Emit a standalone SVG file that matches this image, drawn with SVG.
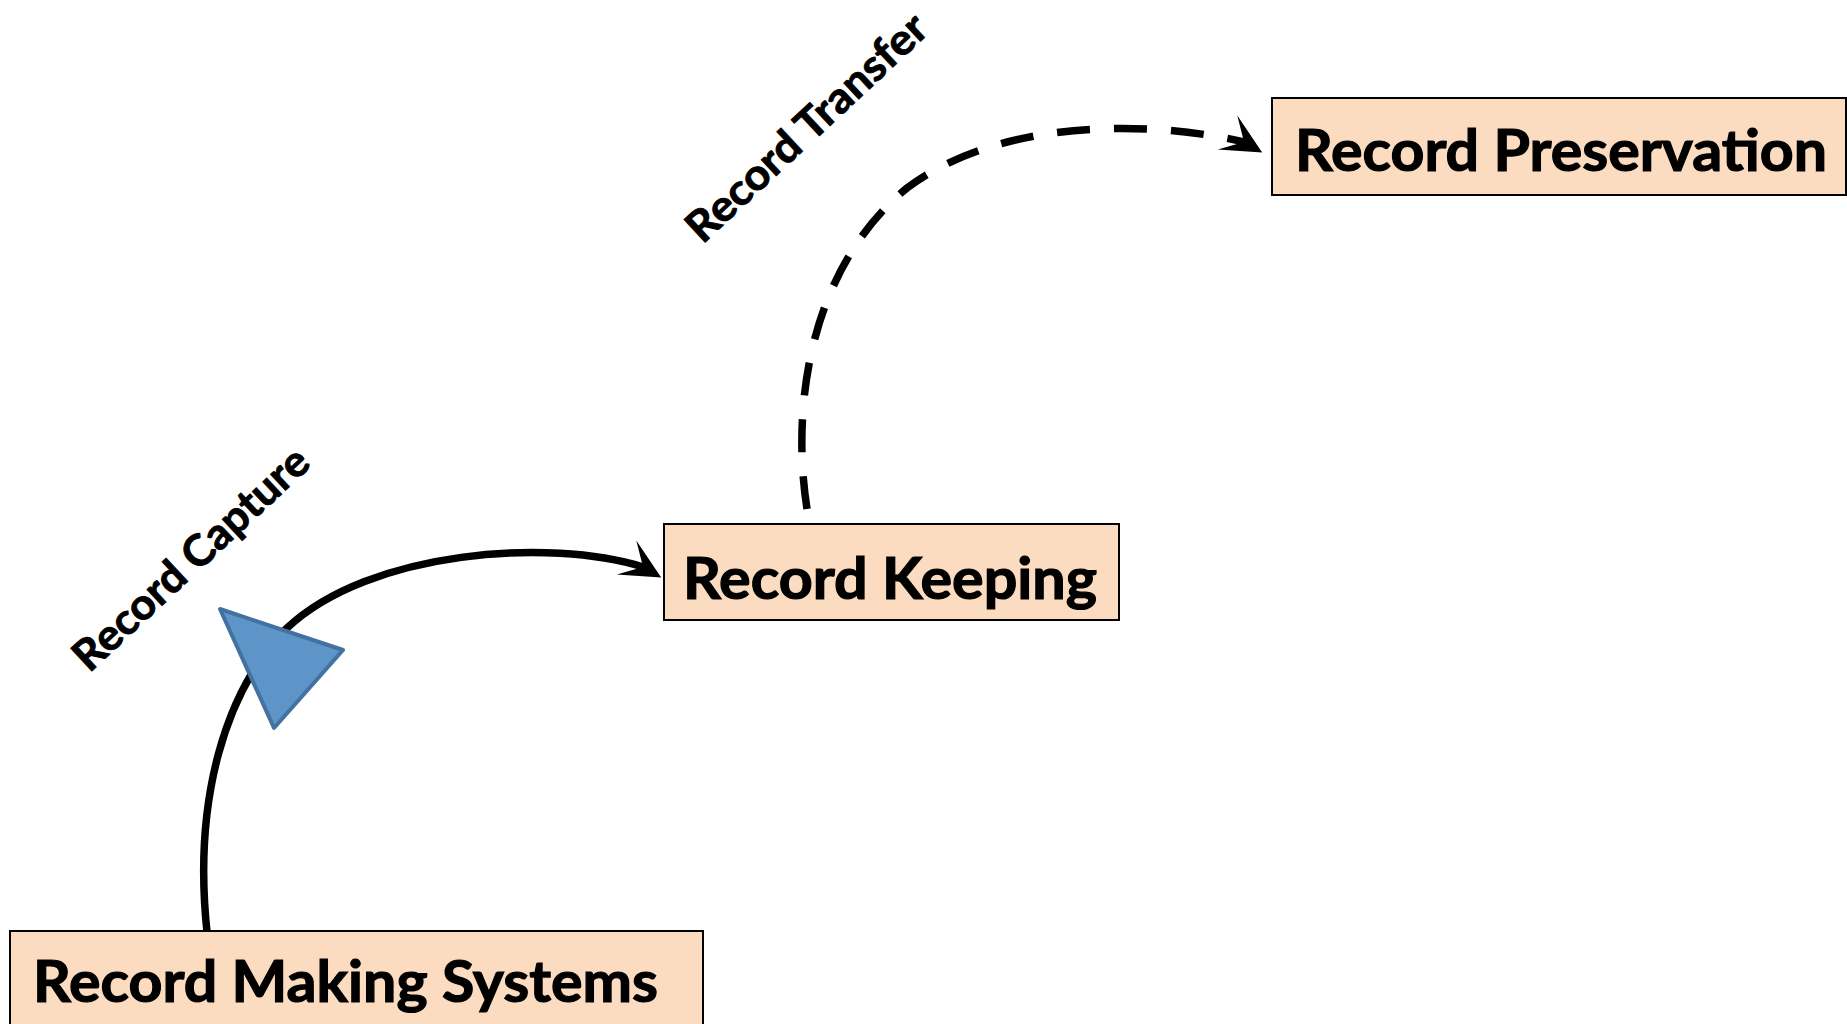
<svg xmlns="http://www.w3.org/2000/svg" width="1847" height="1024" viewBox="0 0 1847 1024">
  <style>
    .box { fill: #FBDCC1; stroke: #000000; stroke-width: 2; }
    .node-text { font-family: Lato, "Liberation Sans", sans-serif; font-weight: bold; font-size: 57px; fill: #000000; stroke: #000000; stroke-width: 1.2; }
    .label { font-family: Lato, "Liberation Sans", sans-serif; font-weight: bold; font-size: 43px; fill: #000000; stroke: #000000; stroke-width: 0.9; text-anchor: middle; }
    .flow { fill: none; stroke: #000000; stroke-width: 7.5; stroke-linecap: butt; }
    .dashed { stroke-dasharray: 33 24; }
  </style>
  <defs>
    <!-- swept-back arrowhead; reference point sits in the notch -->
    <marker id="arrow" markerUnits="userSpaceOnUse" markerWidth="64" markerHeight="64" refX="0" refY="0" orient="30" viewBox="-32 -32 64 64">
      <path d="M21,0 L-19,-19.5 L0,0 L-19,19.5 Z" fill="#000000"/>
    </marker>
  </defs>

  <rect width="1847" height="1024" fill="#FFFFFF"/>

  <!-- connectors -->
  <g id="connectors">
    <!-- Record Capture: Record Making Systems -> Record Keeping -->
    <path id="capture" class="flow" d="M207,932 C193,800 225,690 287,628 C370,550 550,538 643,567" marker-end="url(#arrow)"/>
    <!-- Record Transfer: Record Keeping -> Record Preservation -->
    <path id="transfer" class="flow dashed" d="M807,509 C790,400 813,265 907,188 C1000,118 1150,120 1244,142" marker-end="url(#arrow)"/>
    <text class="label" transform="translate(193,561) rotate(-43)" x="0" y="11.5" textLength="305" lengthAdjust="spacingAndGlyphs">Record Capture</text>
    <text class="label" transform="translate(806,127) rotate(-43)" x="0" y="15.5" textLength="312" lengthAdjust="spacingAndGlyphs">Record Transfer</text>
  </g>

  <!-- blue triangle over the capture curve -->
  <g id="triangle">
    <polygon points="220,609 343,650 274,728" fill="#5E95C9" stroke="#4371A0" stroke-width="4" stroke-linejoin="round"/>
  </g>

  <g id="record-making-systems">
    <rect class="box" x="10" y="931" width="693" height="110"/>
    <text class="node-text" x="33" y="1002" textLength="625" lengthAdjust="spacingAndGlyphs">Record Making Systems</text>
  </g>

  <g id="record-keeping">
    <rect class="box" x="664" y="524" width="455" height="96"/>
    <text class="node-text" x="683" y="599" textLength="414" lengthAdjust="spacingAndGlyphs">Record Keeping</text>
  </g>

  <g id="record-preservation">
    <rect class="box" x="1272" y="98" width="574" height="97"/>
    <text class="node-text" x="1295" y="171" textLength="532" lengthAdjust="spacingAndGlyphs">Record Preservation</text>
  </g>
</svg>
